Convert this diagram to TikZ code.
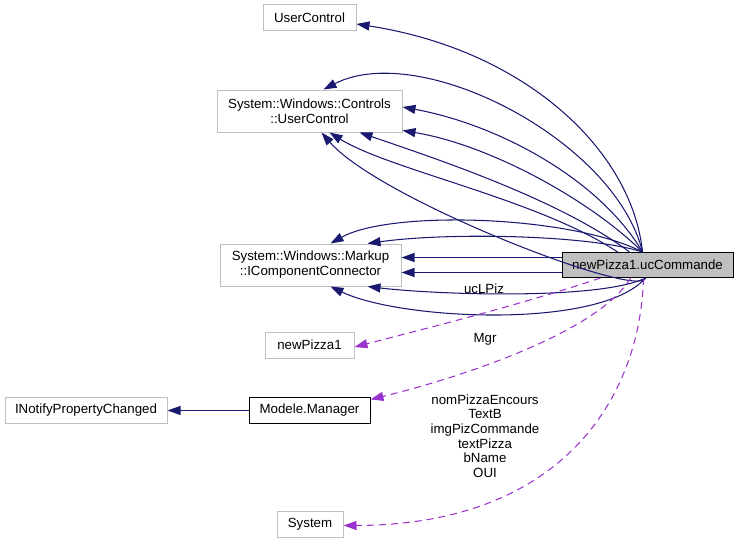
\documentclass[tikz,border=0pt]{standalone}
\usepackage{fontspec}
\setmainfont{Liberation Sans}
\definecolor{doxblue}{HTML}{191970}
\definecolor{doxpurple}{HTML}{9A32CD}
\definecolor{doxgrey}{HTML}{BFBFBF}
\usetikzlibrary{arrows.meta}

\begin{document}
\begin{tikzpicture}[
        x=1pt, y=-1pt,
        font=\fontsize{13.3}{15}\selectfont,
        ext/.style={draw=doxgrey, fill=white, line width=1pt,
                    minimum height=26pt, inner sep=0pt, align=center},
        cls/.style={ext, draw=black},
        main/.style={ext, draw=black, fill=doxgrey, minimum height=25pt},
        inh/.style={-{Triangle[length=13pt, width=9pt]}, doxblue, line width=1.05pt},
        use/.style={-{Triangle[length=13pt, width=9pt]}, doxpurple, line width=1.05pt,
                    dash pattern=on 7pt off 5pt},
        lbl/.style={font=\fontsize{13.3}{14.6}\selectfont, align=center, inner sep=0pt}
      ]
      \useasboundingbox (0,0) rectangle (739,543);

      \node[ext, minimum width=93pt]  (uctrl) at (309.5,18)  {UserControl};
      \node[ext, minimum width=185pt, minimum height=42pt] (ctrl) at (309.5,111)
        {System::Windows::Controls\\::UserControl};
      \node[ext, minimum width=181pt, minimum height=42pt] (conn) at (310.5,265)
        {System::Windows::Markup\\::IComponentConnector};
      \node[main, minimum width=171pt] (uc)   at (647.5,265) {newPizza1.ucCommande};
      \node[ext, minimum width=89pt]  (pz)   at (309.5,345) {newPizza1};
      \node[cls, minimum width=121pt] (mgr)  at (309.5,410.5) {Modele.Manager};
      \node[ext, minimum width=162pt] (inpc) at (86,410.5)    {INotifyPropertyChanged};
      \node[ext, minimum width=66pt]  (sys)  at (310,524.5) {System};

      % inheritance
      \draw[inh] ([xshift=-5pt]uc.north) .. controls (632,150) and (525,50)
        .. ([yshift=-6pt]uctrl.east);

      \draw[inh] ([xshift=-5pt]uc.north) .. controls (615,140) and (420,40)
        .. ([xshift=14pt]ctrl.north);
      \draw[inh] ([xshift=-5pt]uc.north) .. controls (600,180) and (500,125)
        .. ([yshift=4pt]ctrl.east);
      \draw[inh] ([xshift=-5pt]uc.north) .. controls (590,200) and (490,145)
        .. ([yshift=2pt]ctrl.south east);
      \draw[inh] ([xshift=-18pt]uc.north) .. controls (560,200) and (440,160)
        .. ([xshift=50pt]ctrl.south);
      \draw[inh] ([xshift=-30pt]uc.north) .. controls (540,200) and (390,170)
        .. ([xshift=20pt]ctrl.south);
      \draw[inh] ([xshift=-2pt]uc.south) .. controls (640,300) and (380,200)
        .. ([xshift=12pt]ctrl.south);

      \draw[inh] ([xshift=-5pt]uc.north) .. controls (570,215) and (390,210)
        .. ([xshift=20pt]conn.north);
      \draw[inh] ([xshift=-5pt]uc.north) .. controls (590,235) and (450,232)
        .. ([xshift=57pt]conn.north);
      \draw[inh] ([yshift=7.5pt]uc.west) -- ([yshift=7.5pt]conn.east);
      \draw[inh] ([yshift=-7.5pt]uc.west) -- ([yshift=-7.5pt]conn.east);
      \draw[inh] ([xshift=-2pt]uc.south) .. controls (600,300) and (440,295)
        .. ([xshift=57pt]conn.south);
      \draw[inh] ([xshift=-2pt]uc.south) .. controls (600,330) and (400,320)
        .. ([xshift=20pt]conn.south);

      \draw[inh] (mgr) -- (inpc);

      % usage
      \draw[use] ([xshift=-47pt]uc.south) .. controls (520,305) and (420,330)
        .. ([yshift=-2pt]pz.east);
      \draw[use] ([xshift=-17pt]uc.south) .. controls (600,330) and (470,375)
        .. ([yshift=11pt]mgr.east);
      \draw[use] ([xshift=-4pt]uc.south) .. controls (640,400) and (560,525)
        .. ([yshift=-1pt]sys.east);

      \node[lbl] (lpiz) at (484,289) {ucLPiz};
      \node[lbl] (lmgr) at (485,339) {Mgr};
      \node[lbl] (lsys) at (485,436)
        {nomPizzaEncours\\TextB\\imgPizCommande\\textPizza\\bName\\OUI};
    \end{tikzpicture}
\end{document}
